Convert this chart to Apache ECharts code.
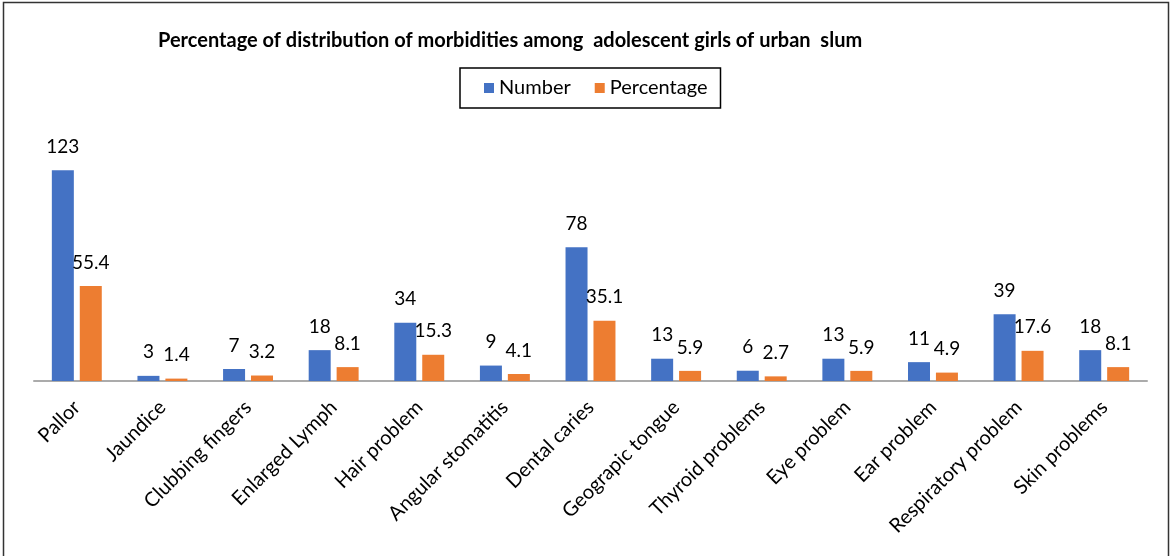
<!DOCTYPE html>
<html>
<head>
<meta charset="utf-8">
<script src="https://cdn.jsdelivr.net/npm/echarts@6/dist/echarts.min.js"></script>
<style>
html,body{margin:0;padding:0;background:#fff;}
#c{width:1176px;height:556px;}
</style>
</head>
<body>
<div id="c"></div>
<script>
const categories = ["Pallor","Jaundice","Clubbing fingers","Enlarged Lymph","Hair problem","Angular stomatitis","Dental caries","Geograpic tongue","Thyroid problems","Eye problem","Ear problem","Respiratory problem","Skin problems"];
const numberValues = [123,3,7,18,34,9,78,13,6,13,11,39,18];
const percentageValues = [55.4,1.4,3.2,8.1,15.3,4.1,35.1,5.9,2.7,5.9,4.9,17.6,8.1];
const seriesNames = ["Number","Percentage"];
const titleText = "Percentage of distribution of morbidities among  adolescent girls of urban  slum";

const FONT = "Lato, 'Open Sans', sans-serif";
const chart = echarts.init(document.getElementById('c'), null, {renderer:'canvas'});
const labelStyle = {show:true, position:'top', distance:14, fontSize:19, color:'#000', fontFamily:FONT};
chart.setOption({
  animation:false,
  backgroundColor:'#fff',
  title:{text:titleText, left:153, top:26, textStyle:{fontSize:20, fontWeight:'bold', color:'#000', fontFamily:FONT}},
  legend:{data:seriesNames, left:460, top:68, orient:'horizontal', borderColor:'#000', borderWidth:1.5,
    padding:[10,13,10,24], itemWidth:10, itemHeight:10, itemGap:24, icon:'rect',
    textStyle:{fontSize:20, color:'#000', fontFamily:FONT}},
  grid:{left:34, right:29, top:141, bottom:175, containLabel:false},
  xAxis:{type:'category', data:categories,
    axisLine:{lineStyle:{color:'#ABABAB', width:2}}, axisTick:{show:false},
    axisLabel:{interval:0, rotate:45, margin:23, fontSize:20, color:'#000', fontFamily:FONT}},
  yAxis:{type:'value', min:0, max:140, show:false, splitLine:{show:false}},
  graphic:[{type:'rect', shape:{x:3.5, y:2.5, width:1165, height:600}, style:{fill:null, stroke:'#333', lineWidth:1.5}, silent:true}],
  series:[
    {name:seriesNames[0], type:'bar', data:numberValues, barWidth:22, barGap:'27%', itemStyle:{color:'#4472C4'}, label:labelStyle},
    {name:seriesNames[1], type:'bar', data:percentageValues, barWidth:22, itemStyle:{color:'#ED7D31'}, label:labelStyle}
  ]
});
</script>
</body>
</html>
